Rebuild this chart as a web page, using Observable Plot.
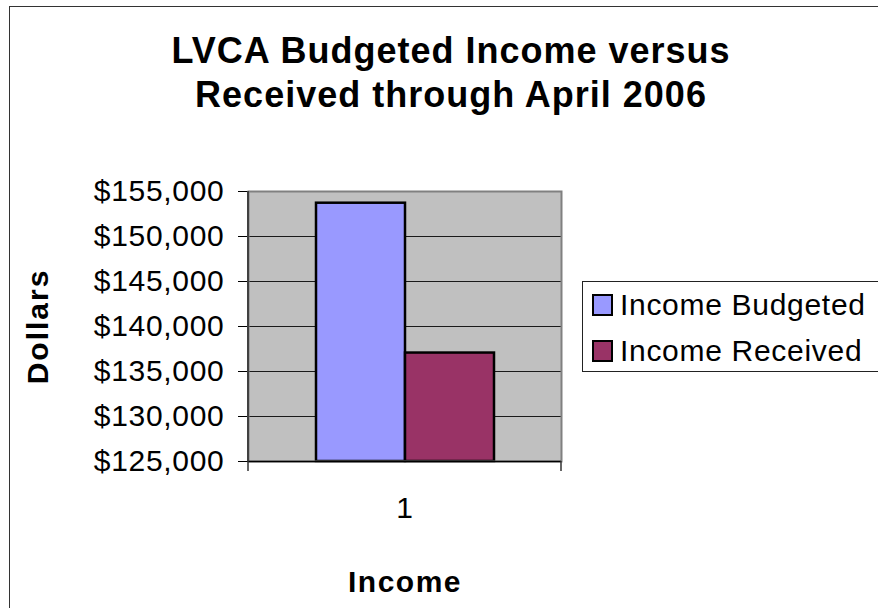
<!DOCTYPE html>
<html>
<head>
<meta charset="utf-8">
<script src="https://cdn.jsdelivr.net/npm/d3@7"></script>
<script src="https://cdn.jsdelivr.net/npm/@observablehq/plot@0.6"></script>
<style>
  html, body { margin: 0; padding: 0; background: #fff; overflow: hidden; }
  #wrap { position: relative; width: 878px; height: 608px; overflow: hidden; background: #fff;
          font-family: "Liberation Sans", Arial, Helvetica, sans-serif; }
  #border { position: absolute; left: 9px; top: 6px; width: 900px; height: 640px;
            border-left: 1.5px solid #333; border-top: 1.5px solid #333; }
  #title { position: absolute; left: 51px; top: 29px; width: 800px; text-align: center;
           font-weight: bold; font-size: 36px; line-height: 44px; letter-spacing: 1px; color: #000; }
  #chart { position: absolute; left: 0; top: 0; }
  #legend { position: absolute; left: 582px; top: 281px; width: 340px; height: 89px;
            border: 1px solid #222; background: #fff; }
  .row { position: absolute; left: 0; height: 46px; display: flex; align-items: center; }
  .sw { width: 17px; height: 18px; border: 2px solid #000; margin-left: 9px; margin-right: 7px; }
  .lab { font-size: 30px; letter-spacing: 0.7px; color: #000; white-space: nowrap; }
</style>
</head>
<body>
<div id="wrap">
  <div id="border"></div>
  <div id="title"></div>
  <div id="chart"></div>
  <div id="legend"></div>
</div>
<script>
// ---- data ----
const titleLines = ["LVCA Budgeted Income versus", "Received through April 2006"];
const categories = ["1"];
const series = ["Income Budgeted", "Income Received"];
const values = [153700, 137050];
const colors = ["#9999FF", "#993366"];
const yTicks = [125000, 130000, 135000, 140000, 145000, 150000, 155000];
const yLabel = "Dollars";
const xLabel = "Income";

const data = series.map((s, i) => ({category: categories[0], series: s, value: values[i]}));

// ---- layout ----
const W = 878, H = 608;
const mL = 248, mR = 317, mT = 191, mB = 147;

document.getElementById("title").innerHTML = titleLines.map(t => `<div>${t}</div>`).join("");

const chart = Plot.plot({
  width: W, height: H,
  marginLeft: mL, marginRight: mR, marginTop: mT, marginBottom: mB,
  style: {fontFamily: "'Liberation Sans', Arial, Helvetica, sans-serif", background: "transparent", overflow: "visible", letterSpacing: "0.7px", color: "#000"},
  fx: {domain: categories, padding: 0, label: null},
  x: {domain: series, paddingInner: 0, paddingOuter: 0.758, axis: null},
  y: {domain: [yTicks[0], yTicks[yTicks.length - 1]], label: null},
  color: {domain: series, range: colors},
  marks: [
    Plot.frame({fill: "#C0C0C0"}),
    Plot.gridY(yTicks, {stroke: "#1a1a1a", strokeOpacity: 1, strokeWidth: 1}),
    Plot.barY(data, {fx: "category", x: "series", y1: yTicks[0], y2: "value", fill: "series", stroke: "#000", strokeWidth: 2.5}),
    Plot.frame({stroke: "#808080", strokeWidth: 2}),
    Plot.ruleY([yTicks[0]], {stroke: "#000", strokeWidth: 1.5}),
    Plot.axisY({ticks: yTicks, tickSize: 10, tickPadding: 14, tickFormat: d3.format("$,"), fontSize: 30, label: null}),
    Plot.axisFx({anchor: "bottom", tickSize: 0, tickPadding: 35, fontSize: 30, label: null}),
    Plot.text([yLabel], {frameAnchor: "left", dx: -210, rotate: -90, fontSize: 30, fontWeight: "bold", textAnchor: "middle", lineAnchor: "middle"}),
    Plot.text([xLabel], {frameAnchor: "bottom", dy: 121, fontSize: 30, fontWeight: "bold", textAnchor: "middle", lineAnchor: "middle"})
  ]
});
document.getElementById("chart").appendChild(chart);

// axis decorations (left axis line and category boundary ticks)
const svg = d3.select(chart);
const x0 = mL, x1 = W - mR, y0 = mT, y1 = H - mB;
svg.append("line").attr("x1", x0).attr("x2", x0).attr("y1", y0).attr("y2", y1)
  .attr("stroke", "#404040").attr("stroke-width", 2);
[x0, x1].forEach(x => svg.append("line").attr("x1", x).attr("x2", x).attr("y1", y1).attr("y2", y1 + 10)
  .attr("stroke", "#333").attr("stroke-width", 1.5));
svg.selectAll("text").filter(function() { return this.textContent === xLabel; })
  .style("letter-spacing", "1.5px");
svg.selectAll("text").filter(function() { return this.textContent === yLabel; })
  .style("letter-spacing", "2px");

// legend
const legend = document.getElementById("legend");
series.forEach((s, i) => {
  const row = document.createElement("div");
  row.className = "row";
  row.style.top = (i * 46) + "px";
  row.innerHTML = `<div class="sw" style="background:${colors[i]}"></div><div class="lab">${s}</div>`;
  legend.appendChild(row);
});
</script>
</body>
</html>
